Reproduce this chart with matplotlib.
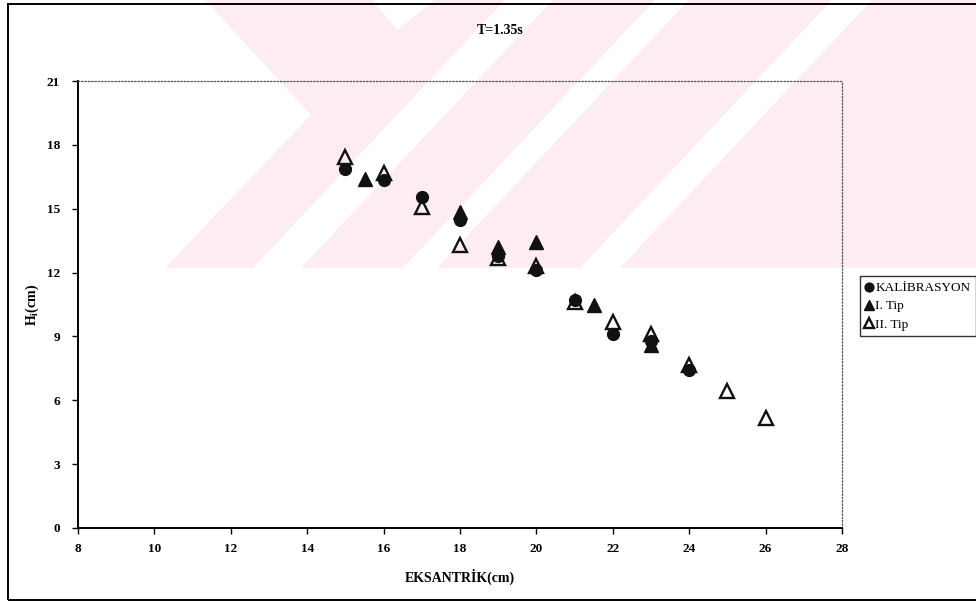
import matplotlib
matplotlib.use('Agg')
import matplotlib.pyplot as plt
from matplotlib.patches import Rectangle, Polygon
from matplotlib.transforms import Affine2D

plt.rcParams['font.family'] = 'Liberation Serif'
plt.rcParams['mathtext.fontset'] = 'custom'
plt.rcParams['mathtext.rm'] = 'Liberation Serif:bold'
plt.rcParams['mathtext.it'] = 'Liberation Serif:bold'

# olculen dalga yukseklikleri (cm), T=1.35s
kal_x = [15, 16, 17, 18, 19, 20, 21, 22, 23, 24]
kal_h = [16.85, 16.35, 15.55, 14.45, 12.8, 12.1, 10.7, 9.1, 8.8, 7.4]

tip1_x = [15.5, 18, 19, 20, 21.5, 23]
tip1_h = [16.4, 14.85, 13.2, 13.45, 10.5, 8.6]

tip2_x = [15, 16, 17, 18, 19, 20, 21, 22, 23, 24, 25, 26]
tip2_h = [17.45, 16.7, 15.1, 13.3, 12.7, 12.3, 10.6, 9.7, 9.1, 7.65, 6.45, 5.15]

W, H = 976, 602
fig = plt.figure(figsize=(W/100, H/100), dpi=100)
px = Affine2D().scale(1/W, -1/H).translate(0, 1) + fig.transFigure

# soluk pembe filigran (ust bolge), eksenlerin arkasinda
pembe = '#fdedf0'
fig.patches.append(Polygon([(205, 0), (976, 0), (976, 268), (165, 268), (311, 115)],
                           closed=True, transform=px, facecolor=pembe, edgecolor='none', zorder=-3))
def serit(x268, w):
    k = 0.94 * 268
    return [(x268 - w/2, 268), (x268 + w/2, 268), (x268 + w/2 + k, 0), (x268 - w/2 + k, 0)]
for x268, w in [(277, 48), (420, 34), (600, 40)]:
    fig.patches.append(Polygon(serit(x268, w), closed=True, transform=px,
                               facecolor='white', edgecolor='none', zorder=-2))
fig.patches.append(Polygon([(373, 0), (435, 0), (397, 30)], closed=True, transform=px,
                           facecolor='white', edgecolor='none', zorder=-2))

ax = fig.add_axes([78/W, 1-528/H, 764/W, 447/H])
ax.set_facecolor('none')

ax.plot(kal_x, kal_h, 'o', color='#111111', markersize=8.5, label='KALİBRASYON', zorder=3)
ax.plot(tip1_x, tip1_h, '^', color='#111111', markersize=10, label='I. Tip', zorder=4)
ax.plot(tip2_x, tip2_h, '^', markerfacecolor='none', markeredgecolor='#111111',
        markeredgewidth=1.7, markersize=10.5, label='II. Tip', zorder=5)

ax.set_xlim(8, 28)
ax.set_ylim(0, 21)
ax.set_xticks(range(8, 29, 2))
ax.set_yticks(range(0, 22, 3))
ax.tick_params(direction='out', length=4, width=1, labelsize=9.5, pad=7)
ax.tick_params(axis='y', pad=9)
for lab in ax.get_xticklabels() + ax.get_yticklabels():
    lab.set_fontweight('bold')
for s in ['left', 'bottom']:
    ax.spines[s].set_linewidth(1.4)
for s in ['top', 'right']:
    ax.spines[s].set_linestyle(':')
    ax.spines[s].set_linewidth(0.9)
    ax.spines[s].set_color('#555555')

ax.set_xlabel('EKSANTRİK(cm)', fontsize=10, fontweight='bold', labelpad=10)
ax.set_ylabel(r'H$_{\mathrm{i}}$(cm)', fontsize=10, fontweight='bold', labelpad=4)
fig.text(500/W, 1-30/H, 'T=1.35s', fontsize=10, fontweight='bold', ha='center', va='center')

leg = fig.legend(loc='upper left', bbox_to_anchor=(860/W, 1-276/H), fontsize=9.5,
                 frameon=True, fancybox=False, edgecolor='black', handlelength=0.5,
                 handletextpad=0.2, borderpad=0.45, labelspacing=0.45, markerscale=0.75,
                 borderaxespad=0)
leg.get_frame().set_linewidth(1.0)

fig.patches.append(Rectangle((8/W, 2/H), 1.2, 596/H, transform=fig.transFigure,
                             fill=False, edgecolor='black', linewidth=1.4, clip_on=False))

fig.savefig('out.png', dpi=100)
